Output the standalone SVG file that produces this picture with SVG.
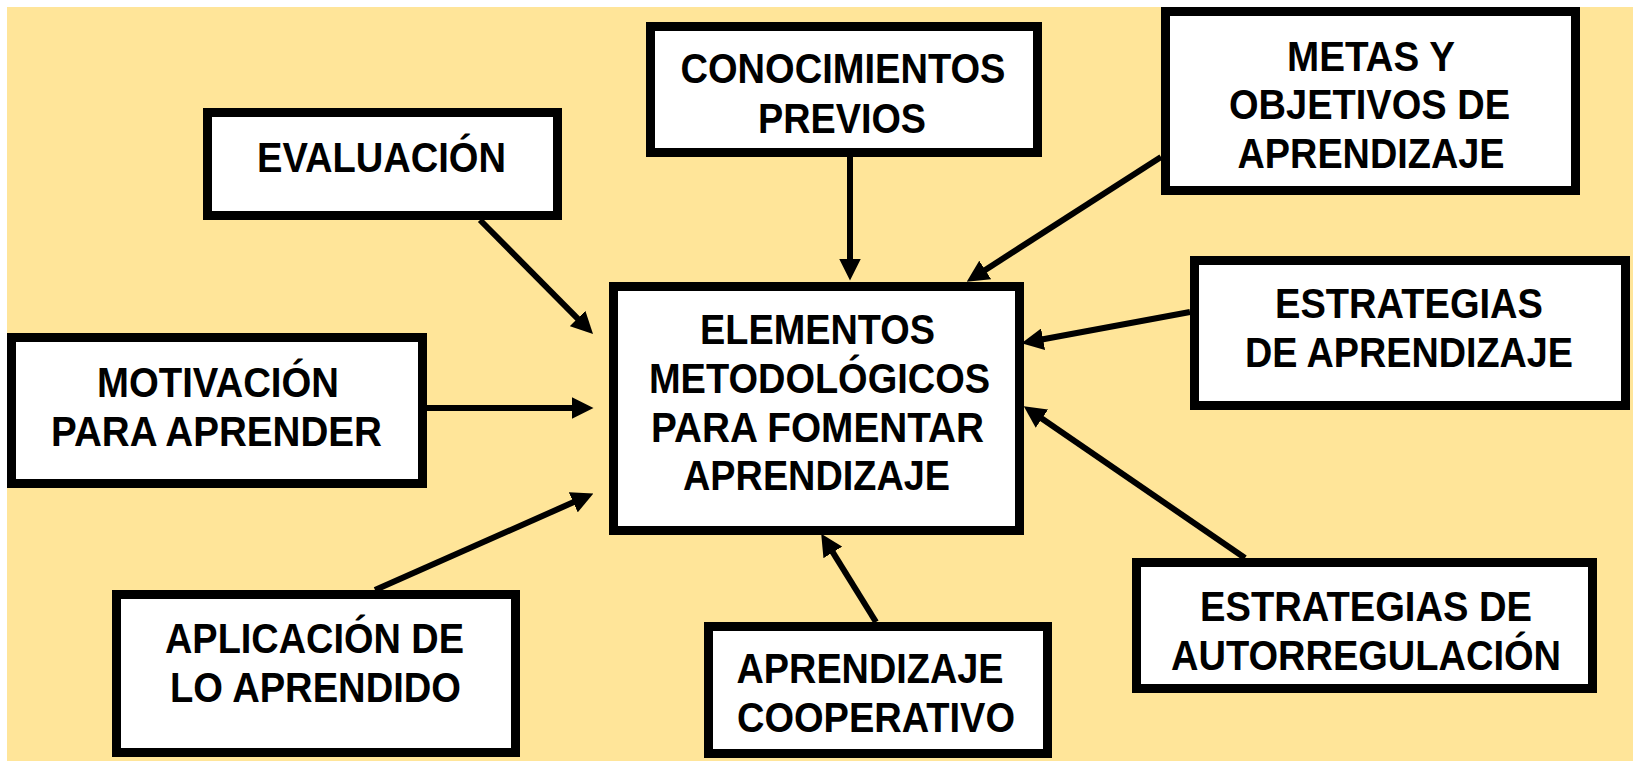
<svg xmlns="http://www.w3.org/2000/svg" width="1633" height="761" viewBox="0 0 1633 761">
<defs>
<style>
.box{fill:#ffffff;stroke:#000000;stroke-width:9}
.t{font-family:"Liberation Sans",Arial,sans-serif;font-weight:bold;font-size:42px;fill:#000000;text-anchor:middle}
.c{stroke:#000000;stroke-width:6;fill:none;marker-end:url(#ah)}
</style>
<marker id="ah" markerUnits="userSpaceOnUse" markerWidth="22" markerHeight="22" viewBox="0 0 20 20" refX="5" refY="10" orient="auto">
<path d="M0,0 L20,10 L0,20 z" fill="#000000"/>
</marker>
</defs>
<rect x="0" y="0" width="1633" height="761" fill="#ffffff"/>
<rect x="7" y="7" width="1626" height="754" fill="#FFE599"/>
<g id="connectors">
<line class="c" x1="480" y1="220" x2="581.4" y2="322.4"/>
<line class="c" x1="850" y1="157" x2="850" y2="264"/>
<line class="c" x1="1161" y1="157" x2="980.6" y2="272.9"/>
<line class="c" x1="1190" y1="312" x2="1037.7" y2="340.3"/>
<line class="c" x1="1245" y1="558" x2="1037.4" y2="415.5"/>
<line class="c" x1="876" y1="622" x2="829.9" y2="547.7"/>
<line class="c" x1="375" y1="590" x2="578.3" y2="500.1"/>
<line class="c" x1="427" y1="408" x2="577" y2="408"/>
</g>
<g id="evaluacion">
<rect class="box" x="207.5" y="112.5" width="350" height="103"/>
<text class="t" x="381.5" y="172" textLength="249" lengthAdjust="spacingAndGlyphs">EVALUACIÓN</text>
</g>
<g id="conocimientos">
<rect class="box" x="650.5" y="26.5" width="387" height="126"/>
<text class="t" x="843" y="83" textLength="325" lengthAdjust="spacingAndGlyphs">CONOCIMIENTOS</text>
<text class="t" x="842" y="133" textLength="168" lengthAdjust="spacingAndGlyphs">PREVIOS</text>
</g>
<g id="metas">
<rect class="box" x="1165.5" y="11.5" width="410" height="179"/>
<text class="t" x="1371" y="71" textLength="168" lengthAdjust="spacingAndGlyphs">METAS Y</text>
<text class="t" x="1369.5" y="119" textLength="281" lengthAdjust="spacingAndGlyphs">OBJETIVOS DE</text>
<text class="t" x="1371" y="168" textLength="267" lengthAdjust="spacingAndGlyphs">APRENDIZAJE</text>
</g>
<g id="elementos">
<rect class="box" x="613.5" y="286.5" width="406" height="244"/>
<text class="t" x="817.5" y="344" textLength="235" lengthAdjust="spacingAndGlyphs">ELEMENTOS</text>
<text class="t" x="819.5" y="393" textLength="341" lengthAdjust="spacingAndGlyphs">METODOLÓGICOS</text>
<text class="t" x="817.5" y="442" textLength="333" lengthAdjust="spacingAndGlyphs">PARA FOMENTAR</text>
<text class="t" x="816.5" y="490" textLength="267" lengthAdjust="spacingAndGlyphs">APRENDIZAJE</text>
</g>
<g id="estrategias-aprendizaje">
<rect class="box" x="1194.5" y="260.5" width="431" height="145"/>
<text class="t" x="1409" y="318" textLength="268" lengthAdjust="spacingAndGlyphs">ESTRATEGIAS</text>
<text class="t" x="1409" y="367" textLength="328" lengthAdjust="spacingAndGlyphs">DE APRENDIZAJE</text>
</g>
<g id="autorregulacion">
<rect class="box" x="1136.5" y="562.5" width="456" height="126"/>
<text class="t" x="1366" y="621" textLength="332" lengthAdjust="spacingAndGlyphs">ESTRATEGIAS DE</text>
<text class="t" x="1366" y="670" textLength="390" lengthAdjust="spacingAndGlyphs">AUTORREGULACIÓN</text>
</g>
<g id="cooperativo">
<rect class="box" x="708.5" y="626.5" width="339" height="127"/>
<text class="t" x="870" y="683" textLength="267" lengthAdjust="spacingAndGlyphs">APRENDIZAJE</text>
<text class="t" x="876" y="732" textLength="278" lengthAdjust="spacingAndGlyphs">COOPERATIVO</text>
</g>
<g id="motivacion">
<rect class="box" x="11.5" y="337.5" width="411" height="146"/>
<text class="t" x="218" y="397" textLength="242" lengthAdjust="spacingAndGlyphs">MOTIVACIÓN</text>
<text class="t" x="216.5" y="446" textLength="331" lengthAdjust="spacingAndGlyphs">PARA APRENDER</text>
</g>
<g id="aplicacion">
<rect class="box" x="116.5" y="594.5" width="399" height="158"/>
<text class="t" x="314.5" y="653" textLength="299" lengthAdjust="spacingAndGlyphs">APLICACIÓN DE</text>
<text class="t" x="315.5" y="702" textLength="291" lengthAdjust="spacingAndGlyphs">LO APRENDIDO</text>
</g>
</svg>
